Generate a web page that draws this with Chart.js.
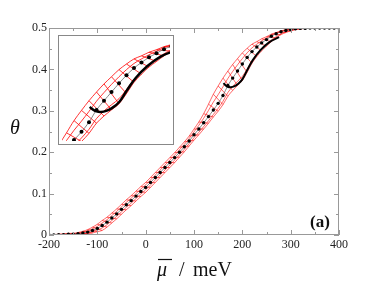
<!DOCTYPE html>
<html>
<head>
<meta charset="utf-8">
<script src="https://cdn.jsdelivr.net/npm/chart.js@4.4.0/dist/chart.umd.min.js"></script>
<style>
body{margin:0;background:#fff;}
#wrap{position:relative;width:374px;height:289px;}
#inset{position:absolute;left:58px;top:35px;background:#fff;}
</style>
</head>
<body>
<div id="wrap">
<canvas id="myCanvas" width="374" height="289"></canvas>
<canvas id="inset" width="116" height="110"></canvas>
</div>
<script>
// chemical potential grid (meV)
var mu = [-200,-190,-180,-170,-160,-150,-140,-130,-120,-110,
          -100,-90,-80,-70,-60,-50,-40,-30,-20,-10,
          0,10,20,30,40,50,60,70,80,90,
          100,110,120,130,140,150,160,170,180,190,
          200,210,220,230,240,250,260,270,280,290,
          300,310,320,330,340,350,360,370,380,390,400];

// black dotted curve
var theta = [0.000,0.000,0.001,0.001,0.002,0.002,0.003,0.005,0.007,0.011,
             0.016,0.023,0.031,0.041,0.051,0.062,0.073,0.083,0.094,0.105,
             0.115,0.127,0.139,0.151,0.163,0.175,0.187,0.200,0.213,0.227,
             0.242,0.256,0.271,0.286,0.302,0.318,0.337,0.361,0.379,0.396,
             0.413,0.429,0.443,0.454,0.464,0.472,0.480,0.486,0.491,0.494,
             0.496,0.498,0.499,0.499,0.500,0.500,0.500,0.500,0.500,0.500,0.500];

// red curves, from upper to lower
var red1 = [0.000,0.001,0.002,0.002,0.004,0.004,0.006,0.009,0.013,0.019,
            0.026,0.035,0.043,0.053,0.063,0.074,0.085,0.095,0.106,0.117,
            0.127,0.139,0.151,0.163,0.175,0.187,0.199,0.212,0.225,0.239,
            0.256,0.273,0.293,0.316,0.340,0.360,0.379,0.396,0.412,0.426,
            0.440,0.451,0.461,0.467,0.474,0.479,0.485,0.489,0.493,0.496,
            0.497,0.499,0.500,0.500,0.500,0.500,0.500,0.500,0.500,0.500,0.500];
var red2 = [0.000,0.000,0.001,0.002,0.003,0.003,0.004,0.007,0.010,0.015,
            0.021,0.029,0.037,0.047,0.057,0.068,0.079,0.089,0.100,0.111,
            0.121,0.133,0.145,0.157,0.169,0.181,0.193,0.206,0.219,0.233,
            0.249,0.265,0.282,0.301,0.321,0.339,0.358,0.378,0.395,0.411,
            0.426,0.440,0.452,0.461,0.469,0.476,0.483,0.488,0.492,0.495,
            0.497,0.498,0.499,0.499,0.500,0.500,0.500,0.500,0.500,0.500,0.500];
var red3 = [0.000,0.000,0.000,0.000,0.001,0.001,0.002,0.003,0.005,0.008,
            0.012,0.017,0.025,0.035,0.045,0.056,0.067,0.077,0.088,0.099,
            0.109,0.121,0.133,0.145,0.157,0.169,0.181,0.194,0.207,0.221,
            0.235,0.248,0.262,0.276,0.291,0.306,0.323,0.344,0.359,0.371,
            0.383,0.401,0.421,0.436,0.449,0.460,0.471,0.479,0.486,0.491,
            0.494,0.497,0.498,0.499,0.500,0.500,0.500,0.500,0.500,0.500,0.500];
var red4 = [0.000,0.000,0.000,0.000,0.001,0.001,0.001,0.002,0.003,0.005,
            0.008,0.011,0.019,0.029,0.039,0.050,0.061,0.071,0.082,0.093,
            0.103,0.115,0.127,0.139,0.151,0.163,0.175,0.188,0.201,0.215,
            0.229,0.242,0.256,0.270,0.285,0.299,0.315,0.335,0.349,0.361,
            0.373,0.393,0.415,0.431,0.445,0.456,0.467,0.476,0.484,0.489,
            0.493,0.496,0.498,0.499,0.500,0.500,0.500,0.500,0.500,0.500,0.500];

// thick black branch near the kink
var kinkMu    = [161,165,170,176,183,191,200,210,222,238,256,276];
var kinkTheta = [0.367,0.362,0.358,0.357,0.359,0.365,0.376,0.398,0.423,0.447,0.466,0.478];

var xTicks = [-200,-100,0,100,200,300,400];
var xMinor = [-150,-50,50,150,250,350];
var yTicks = [0,0.1,0.2,0.3,0.4,0.5];
var yMinor = [0.05,0.15,0.25,0.35,0.45];

function pts(xs, ys){
    var out = [];
    for (var i = 0; i < xs.length; i++) out.push({x: xs[i], y: ys[i]});
    return out;
}

function buildSets(dot, thick, thin){
    var sets = [];
    [red1, red2, red3, red4].forEach(function(r){
        sets.push({data: pts(mu, r), borderColor: '#ff0000', borderWidth: thin,
                   pointRadius: 0, tension: 0.3, order: 3});
    });
    // rungs across the red band
    for (var i = 1; i < mu.length - 1; i++) {
        sets.push({data: [{x: mu[i-1], y: red1[i-1]}, {x: mu[i+1], y: red4[i+1]}],
                   borderColor: '#ff0000', borderWidth: thin, pointRadius: 0, order: 2});
    }
    sets.push({data: pts(mu, theta), borderColor: '#555', borderWidth: 0.7,
               pointRadius: dot, pointBackgroundColor: '#000', pointBorderWidth: 0,
               tension: 0.3, order: 1});
    sets.push({data: pts(kinkMu, kinkTheta), borderColor: '#000', borderWidth: thick,
               pointRadius: 0, tension: 0.4, order: 0});
    return sets;
}

var frameTicks = {
    id: 'frameTicks',
    afterDraw: function(chart){
        var ctx = chart.ctx, a = chart.chartArea;
        var xs = chart.scales.x, ys = chart.scales.y;
        ctx.save();
        ctx.strokeStyle = '#999';
        ctx.lineWidth = 1;
        ctx.strokeRect(a.left + 0.5, a.top + 0.5, a.right - a.left - 1, a.bottom - a.top - 1);
        ctx.beginPath();
        function xt(v, len){
            var p = Math.round(xs.getPixelForValue(v)) + 0.5;
            ctx.moveTo(p, a.bottom); ctx.lineTo(p, a.bottom - len);
            ctx.moveTo(p, a.top); ctx.lineTo(p, a.top + len);
        }
        function yt(v, len){
            var p = Math.round(ys.getPixelForValue(v)) + 0.5;
            ctx.moveTo(a.left, p); ctx.lineTo(a.left + len, p);
            ctx.moveTo(a.right, p); ctx.lineTo(a.right - len, p);
        }
        xTicks.forEach(function(v){ xt(v, 5); });
        xMinor.forEach(function(v){ xt(v, 3); });
        yTicks.forEach(function(v){ yt(v, 5); });
        yMinor.forEach(function(v){ yt(v, 3); });
        ctx.stroke();

        ctx.fillStyle = '#111';
        ctx.strokeStyle = '#111';
        ctx.textBaseline = 'alphabetic';
        ctx.font = 'italic 20px "Liberation Serif"';
        ctx.textAlign = 'center';
        ctx.fillText('θ', 15, 134);
        ctx.textAlign = 'left';
        ctx.fillText('μ', 157, 276);
        // bar over mu
        ctx.lineWidth = 1.2;
        ctx.beginPath();
        ctx.moveTo(158, 259.5); ctx.lineTo(172, 259.5);
        ctx.stroke();
        ctx.font = '20px "Liberation Serif"';
        ctx.fillText('/', 179, 276);
        ctx.fillText('meV', 193, 276);
        ctx.font = 'bold 17px "Liberation Serif"';
        ctx.fillText('(a)', 310, 227);
        ctx.restore();
    }
};

var insetFrame = {
    id: 'insetFrame',
    afterDraw: function(chart){
        var ctx = chart.ctx;
        ctx.save();
        ctx.strokeStyle = '#888';
        ctx.lineWidth = 1;
        ctx.strokeRect(0.5, 0.5, chart.width - 1, chart.height - 1);
        ctx.restore();
    }
};

var tickFont = {family: 'Liberation Serif', size: 12};

new Chart(document.getElementById('myCanvas').getContext('2d'), {
    type: 'line',
    data: {datasets: buildSets(1.7, 2, 0.6)},
    options: {
        responsive: false,
        animation: false,
        layout: {padding: {top: 28, right: 35, left: 0, bottom: 0}},
        plugins: {legend: {display: false}, tooltip: {enabled: false}},
        scales: {
            x: {
                type: 'linear', min: -200, max: 400,
                afterFit: function(s){ s.height = 54; },
                grid: {display: false, drawTicks: false},
                border: {display: false},
                ticks: {stepSize: 100, padding: 3, color: '#222', font: tickFont, maxRotation: 0,
                        callback: function(v){ return String(v); }}
            },
            y: {
                type: 'linear', min: 0, max: 0.5,
                afterFit: function(s){ s.width = 49; },
                grid: {display: false, drawTicks: false},
                border: {display: false},
                ticks: {stepSize: 0.1, padding: 2, color: '#222', font: tickFont,
                        callback: function(v){ return v === 0 ? '0' : v.toFixed(1); }}
            }
        }
    },
    plugins: [frameTicks]
});

new Chart(document.getElementById('inset').getContext('2d'), {
    type: 'line',
    data: {datasets: buildSets(2, 2.5, 0.8)},
    options: {
        responsive: false,
        animation: false,
        layout: {padding: 0},
        plugins: {legend: {display: false}, tooltip: {enabled: false}},
        scales: {
            x: {type: 'linear', display: false, min: 124, max: 268},
            y: {type: 'linear', display: false, min: 0.3, max: 0.5}
        }
    },
    plugins: [insetFrame]
});
</script>
</body>
</html>
